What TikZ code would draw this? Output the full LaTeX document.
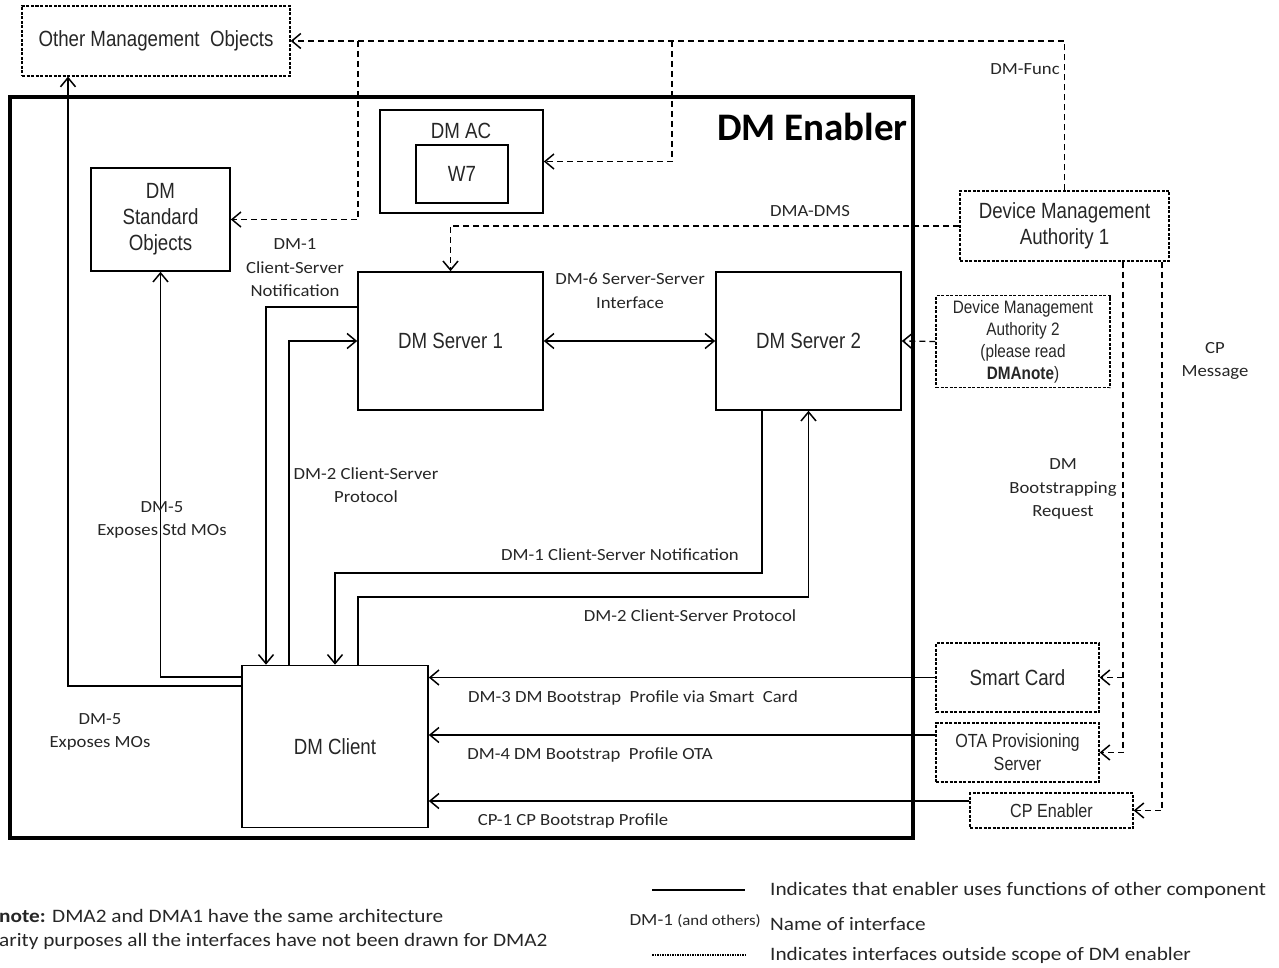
\documentclass[tikz,border=0pt]{standalone}
\usepackage{fontspec}
\setmainfont{Carlito}
\newfontfamily\narfnt[FakeStretch=0.85]{Liberation Sans}
\newfontfamily\calfnt{Carlito}
\newfontfamily\widefnt[FakeStretch=1.1]{Carlito}
\newfontfamily\legfnt[FakeStretch=1.12]{Carlito}
\usetikzlibrary{arrows.meta,calc}
\begin{document}
\begin{tikzpicture}[x=1pt,y=-1pt,
  bx/.style={draw, line width=1.6pt, inner sep=0pt, align=center, text=black!85,
    font=\narfnt\fontsize{22}{26}\selectfont},
  dbx/.style={bx, line width=1.3pt, dash pattern=on 3pt off 1.5pt},
  txt/.style={inner sep=0pt, align=center, text=black!85, font=\narfnt\fontsize{22}{26}\selectfont},
  lab/.style={inner sep=0pt, align=center, text=black!85, font=\widefnt\fontsize{17}{23.5}\selectfont},
  leg/.style={inner sep=0pt, anchor=west, text=black!85, font=\legfnt\fontsize{19}{22}\selectfont},
  tip/.style={-{Straight Barb[length=9pt,width=15pt,line width=1.5pt]}},
  conn/.style={line width=1.5pt, tip},
  dconn/.style={line width=1.3pt, dash pattern=on 6pt off 4pt, tip},
]
\useasboundingbox (0,0) rectangle (1279,968);

% enabler frame
\draw[line width=4pt] (10,97) rectangle (913,838);
\node[inner sep=0pt, anchor=east, font=\calfnt\bfseries\fontsize{39}{40}\selectfont] (title) at (908,127) {DM Enabler};

% boxes
\node[dbx, minimum width=268pt, minimum height=70pt] (omo) at (156,41) {Other Management\ \ Objects};
\node[bx, minimum width=163pt, minimum height=103pt] (dmac) at (461.5,161.5) {};
\node[txt] (dmactxt) at (461,131) {DM AC};
\node[bx, minimum width=92pt, minimum height=58pt] (w7) at (462,174) {W7};
\node[bx, minimum width=139pt, minimum height=103pt] (dmso) at (160.5,219.5) {DM\\Standard\\Objects};
\node[bx, minimum width=185pt, minimum height=138pt] (dms1) at (450.5,341) {DM Server 1};
\node[bx, minimum width=185pt, minimum height=138pt] (dms2) at (808.5,341) {DM Server 2};
\node[dbx, minimum width=209pt, minimum height=70pt] (dma1) at (1064.5,226) {Device Management\\Authority 1};
\node[dbx, minimum width=174pt, minimum height=92pt, font=\narfnt\fontsize{18}{22}\selectfont] (dma2) at (1023,341.5) {Device Management\\Authority 2\\(please read\\\textbf{DMAnote})};
\node[dbx, minimum width=163pt, minimum height=69pt] (sc) at (1017.5,677.5) {Smart Card};
\node[dbx, minimum width=163pt, minimum height=59pt, font=\narfnt\fontsize{19}{23}\selectfont] (ota) at (1017.5,752.5) {OTA Provisioning\\Server};
\node[dbx, minimum width=163pt, minimum height=35pt, font=\narfnt\fontsize{19}{23}\selectfont] (cpe) at (1051.5,810.5) {CP Enabler};
\node[bx, minimum width=186pt, minimum height=162pt] (dmc) at (335,746.5) {DM Client};

% dashed connectors
\coordinate (j1) at (358,41);
\coordinate (j2) at (672,41);
\draw[dconn] (dma1.north) |- (omo.east);
\draw[dconn] (j1) |- (dmso.east);
\draw[dconn] (j2) |- (dmac.east);
\draw[dconn] (dma1.west) -| (dms1.north);
\draw[dconn] (dma2.west) -- (dms2.east);
\coordinate (b1) at ([xshift=58.5pt]dma1.south);
\coordinate (b2) at ([xshift=97.5pt]dma1.south);
\draw[dconn] (b1) |- (ota.east);
\draw[dconn] (b1 |- sc.east) -- (sc.east);
\draw[dconn] (b2) |- (cpe.east);

% solid connectors
\draw[line width=1.5pt, {Straight Barb[length=9pt,width=15pt,line width=1.5pt]}-{Straight Barb[length=9pt,width=15pt,line width=1.5pt]}] (dms1.east) -- (dms2.west);
\draw[conn] (sc.west) -- (sc.west -| dmc.east);
\draw[conn] (ota.west |- 0,735) -- (dmc.east |- 0,735);
\draw[conn] (cpe.west |- 0,801) -- (dmc.east |- 0,801);
\draw[conn] ([xshift=-46.5pt]dms2.south) |- (dmc.north |- 0,573) -- (dmc.north);
\draw[conn] ([xshift=23pt]dmc.north) |- (dms2.south |- 0,597) -- (dms2.south);
\draw[conn] (dms1.west |- 0,307) -| ([xshift=-69pt]dmc.north);
\draw[conn] ([xshift=-46pt]dmc.north) |- (dms1.west);
\draw[conn] (dmc.west |- 0,677) -| (dmso.south);
\draw[conn] (dmc.west |- 0,686) -| ([xshift=-88pt]omo.south);

% labels
\node[lab] (l1) at (295,268) {DM-1\\Client-Server\\Notification};
\node[lab] (l2) at (630,291) {DM-6 Server-Server\\Interface};
\node[lab] (l3) at (366,485) {DM-2 Client-Server\\Protocol};
\node[lab] (l4) at (162,520) {DM-5\\Exposes Std MOs};
\node[lab] (l5) at (100,732) {DM-5\\Exposes MOs};
\node[lab] (l6) at (620,555) {DM-1 Client-Server Notification};
\node[lab] (l7) at (690,616) {DM-2 Client-Server Protocol};
\node[lab] (l8) at (633,698) {DM-3 DM Bootstrap\ \ Profile via Smart\ \ Card};
\node[lab] (l9) at (590,755) {DM-4 DM Bootstrap\ \ Profile OTA};
\node[lab] (l10) at (573,821) {CP-1 CP Bootstrap Profile};
\node[lab] (l11) at (810,211) {DMA-DMS};
\node[lab] (l12) at (1025,69) {DM-Func};
\node[lab] (l13) at (1063,489) {DM\\Bootstrapping\\Request};
\node[lab] (l14) at (1215,361) {CP\\Message};

% legend
\coordinate (s1) at (652,890); \coordinate (s2) at (745,890);
\draw[line width=1.5pt] (s1) -- (s2);
\coordinate (d1) at (652,955); \coordinate (d2) at (745,955);
\draw[line width=1.3pt, dash pattern=on 1.5pt off 1pt] (d1) -- (d2);
\node[leg] (lg1) at (770,890) {Indicates that enabler uses functions of other component};
\node[leg] (lg2) at (770,924) {Name of interface};
\node[leg] (lg3) at (770,955) {Indicates interfaces outside scope of DM enabler};
\node[inner sep=0pt, anchor=east, text=black!85, font=\legfnt\fontsize{17}{18}\selectfont] (lg4) at (761,921) {DM-1 {\fontsize{15}{16}\selectfont(and others)}};
\node[leg] (n1) at (-1,916) {\textbf{note:} DMA2 and DMA1 have the same architecture};
\node[leg] (n2) at (-1,941) {arity purposes all the interfaces have not been drawn for DMA2};
\end{tikzpicture}
\end{document}
